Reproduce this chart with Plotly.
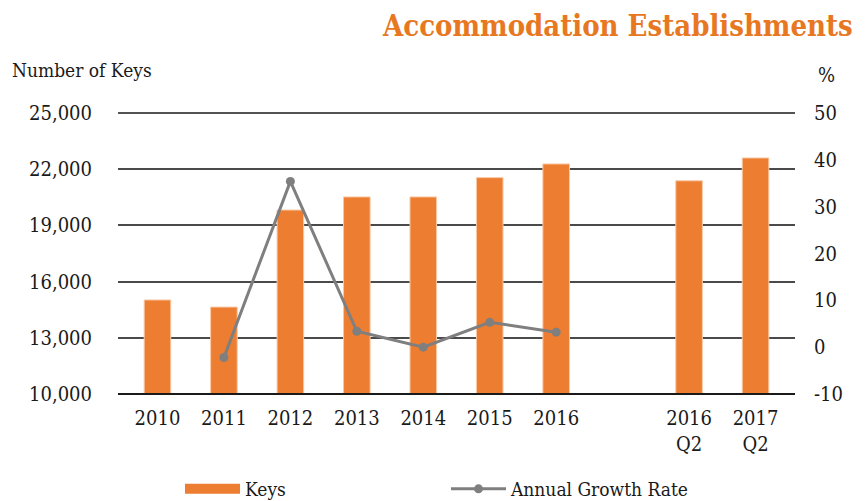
import plotly.graph_objects as go

categories = ["2010", "2011", "2012", "2013", "2014", "2015", "2016", " ", "2016<br>Q2", "2017<br>Q2"]
keys = [15020, 14640, 19820, 20520, 20520, 21550, 22280, None, 21380, 22600]
growth = [None, -2.2, 35.4, 3.4, 0.0, 5.3, 3.2, None, None, None]

left_ticks = [10000, 13000, 16000, 19000, 22000, 25000]
left_text = ["10,000", "13,000", "16,000", "19,000", "22,000", "25,000"]
right_ticks = [-10, 0, 10, 20, 30, 40, 50]
right_text = ["-10", "0", "10", "20", "30", "40", "50"]

FONT = "DejaVu Serif Condensed"
ORANGE = "#ED7D31"
GREY = "#7F7F7F"
TXT = "#1a1a1a"

# the page body has an 8px margin, so the figure is sized to fit inside it
W, H = 860, 493

fig = go.Figure()
fig.add_trace(go.Bar(
    x=categories, y=keys, name="Keys", showlegend=False,
    marker=dict(color=ORANGE, line=dict(color="#F8C9A6", width=1)),
    width=0.4,
))
# legend-only entry for the bar series (wide swatch as in the reference)
fig.add_trace(go.Scatter(
    x=[None], y=[None], name="Keys", mode="lines",
    line=dict(color=ORANGE, width=14),
))
fig.add_trace(go.Scatter(
    x=categories, y=growth, name="Annual Growth Rate", yaxis="y2",
    mode="lines+markers",
    line=dict(color=GREY, width=3),
    marker=dict(color=GREY, size=9),
))

fig.update_layout(
    width=W, height=H,
    margin=dict(l=110, r=73, t=105, b=107, autoexpand=False),
    paper_bgcolor="white", plot_bgcolor="white",
    font=dict(family=FONT, size=20, color=TXT),
    showlegend=True,
    xaxis=dict(
        type="category", categoryorder="array", categoryarray=categories,
        showgrid=False, zeroline=False, ticks="", showline=False,
        ticklabelstandoff=10,
        tickfont=dict(family=FONT, size=20, color=TXT),
    ),
    yaxis=dict(
        range=[10000, 25000], tickvals=left_ticks, ticktext=left_text,
        showgrid=True, gridcolor="#4a4a4a", gridwidth=1.5, zeroline=False,
        showline=False, ticks="", ticklabelstandoff=25,
        tickfont=dict(family=FONT, size=20, color=TXT),
    ),
    yaxis2=dict(
        range=[-10, 50], tickvals=right_ticks, ticktext=right_text,
        overlaying="y", side="right",
        showgrid=False, zeroline=False, showline=False, ticks="",
        ticklabelstandoff=18,
        tickfont=dict(family=FONT, size=20, color=TXT),
    ),
    legend=dict(
        orientation="h", xref="container", yref="container",
        x=172/W, y=1 - 481/H, xanchor="left", yanchor="middle",
        entrywidth=196, entrywidthmode="pixels", itemwidth=55,
        font=dict(family=FONT, size=19, color=TXT),
        bgcolor="rgba(0,0,0,0)",
    ),
    annotations=[
        dict(text="<b>Accommodation Establishments</b>", xref="paper", yref="paper",
             x=1.0 + 60/677, y=1.0 + 87/281, xanchor="right", yanchor="middle",
             showarrow=False, font=dict(family=FONT, size=29, color="#E87722")),
        dict(text="Number of Keys", xref="paper", yref="paper",
             x=-108/677, y=1.0 + 43/281, xanchor="left", yanchor="middle",
             showarrow=False, font=dict(family=FONT, size=19, color=TXT)),
        dict(text="%", xref="paper", yref="paper",
             x=1.0 + 31/677, y=1.0 + 38/281, xanchor="center", yanchor="middle",
             showarrow=False, font=dict(family=FONT, size=20, color=TXT)),
    ],
)
for yv in (0, 1):
    fig.add_shape(type="line", xref="paper", yref="paper", x0=0, x1=1, y0=yv, y1=yv,
                  line=dict(color=TXT, width=2 if yv == 0 else 1.5))

fig.write_html("out.html")
